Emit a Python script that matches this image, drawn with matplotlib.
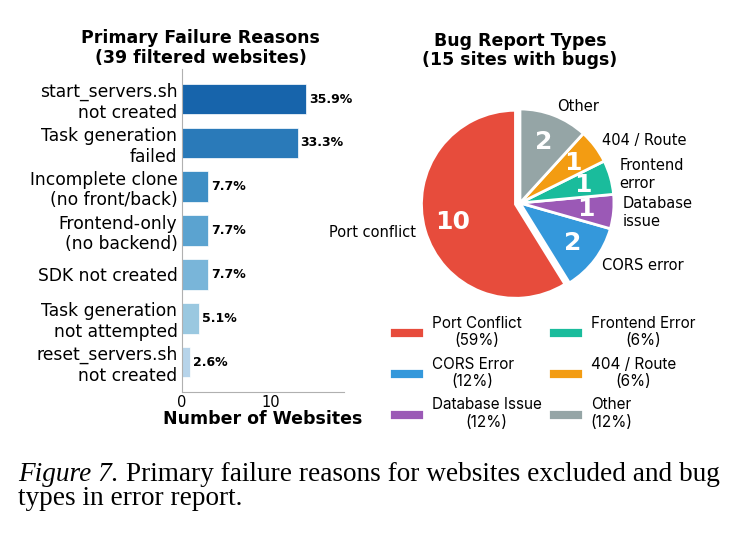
import numpy as np
import matplotlib
matplotlib.use('Agg')
import matplotlib.pyplot as plt

# left panel: failure reasons (of 39 filtered websites)
reasons = ['start_servers.sh\nnot created', 'Task generation\nfailed',
           'Incomplete clone\n(no front/back)', 'Frontend-only\n(no backend)',
           'SDK not created', 'Task generation\nnot attempted',
           'reset_servers.sh\nnot created']
reason_counts = [14, 13, 3, 3, 3, 2, 1]
total_filtered = 39

# right panel: bug report types
bug_types = ['Port conflict', 'CORS error', 'Database\nissue', 'Frontend\nerror',
             '404 / Route', 'Other']
bug_counts = [10, 2, 1, 1, 1, 2]
bug_legend = ['Port Conflict\n(59%)', 'CORS Error\n(12%)', 'Database Issue\n(12%)',
              'Frontend Error\n(6%)', '404 / Route\n(6%)', 'Other\n(12%)']
bug_colors = ['#e74c3c', '#3498db', '#9b59b6', '#1abc9c', '#f39c12', '#95a5a6']

plt.rcParams['font.family'] = 'DejaVu Sans'

fig = plt.figure(figsize=(7.35, 5.33), dpi=100)

# --- bar chart
ax = fig.add_axes([0.247, 0.2645, 0.221, 0.606])
y = np.arange(len(reasons))
bar_colors = plt.cm.Blues(np.linspace(0.8, 0.3, len(reasons)))
ax.barh(y, reason_counts, height=0.7, color=bar_colors, edgecolor='white', linewidth=0.5)
ax.set_yticks(y)
ax.set_yticklabels(reasons, fontsize=12.3)
ax.invert_yaxis()
ax.set_xlim(0, max(reason_counts) * 1.3)
ax.set_xticks([0, 10])
ax.tick_params(axis='x', labelsize=10.5, length=0, pad=2)
ax.tick_params(axis='y', length=0, pad=3)
for c, yy in zip(reason_counts, y):
    ax.text(c + 0.3, yy, f'{c / total_filtered * 100:.1f}%', va='center', ha='left',
            fontsize=9, fontweight='bold')
for s in ['top', 'right']:
    ax.spines[s].set_visible(False)
for s in ['left', 'bottom']:
    ax.spines[s].set_color('#b0b0b0')
ax.set_xlabel('Number of Websites', fontsize=12.5, fontweight='bold', labelpad=0)
ax.set_title('Primary Failure Reasons\n(39 filtered websites)', fontsize=12.5,
             fontweight='bold', x=0.119, pad=4)

# --- pie chart
ax2 = fig.add_axes([0.5476, 0.3987, 0.3197, 0.4409])
explode = [0.05] + [0] * (len(bug_counts) - 1)
wedges, texts, autotexts = ax2.pie(
    bug_counts, labels=bug_types, colors=bug_colors, explode=explode,
    startangle=90, labeldistance=1.1, pctdistance=0.7,
    autopct=lambda p: f'{int(round(p * sum(bug_counts) / 100))}',
    wedgeprops=dict(edgecolor='white', linewidth=2),
    textprops=dict(fontsize=10.5))
for t in autotexts:
    t.set_color('white')
    t.set_fontsize(18)
    t.set_fontweight('bold')
ax2.set_title('Bug Report Types\n(15 sites with bugs)', fontsize=12.5,
              fontweight='bold', pad=15, linespacing=1.05)

leg = fig.legend(wedges, bug_legend, loc='upper center', ncol=2,
                 bbox_to_anchor=(542 / 735, 1 - 302 / 533), frameon=False,
                 prop=dict(family='Inter', size=11), handlelength=2.3,
                 handleheight=0.7, handletextpad=0.5, columnspacing=0.4,
                 labelspacing=0.55)
for t in leg.get_texts():
    t.set_multialignment('center')

# --- caption
cap_size = 19.6
cap1 = fig.text(18 / 735, 1 - 481 / 533, 'Figure 7.', family='Liberation Serif',
                style='italic', fontsize=cap_size, va='baseline', ha='left')
ax.annotate(' Primary failure reasons for websites excluded and bug', xy=(1, 0),
            xycoords=cap1, va='bottom', ha='left', family='Liberation Serif',
            fontsize=cap_size, annotation_clip=False)
fig.text(18 / 735, 1 - 505 / 533, 'types in error report.', family='Liberation Serif',
         fontsize=cap_size, va='baseline', ha='left')

fig.savefig('out.png', dpi=100)
